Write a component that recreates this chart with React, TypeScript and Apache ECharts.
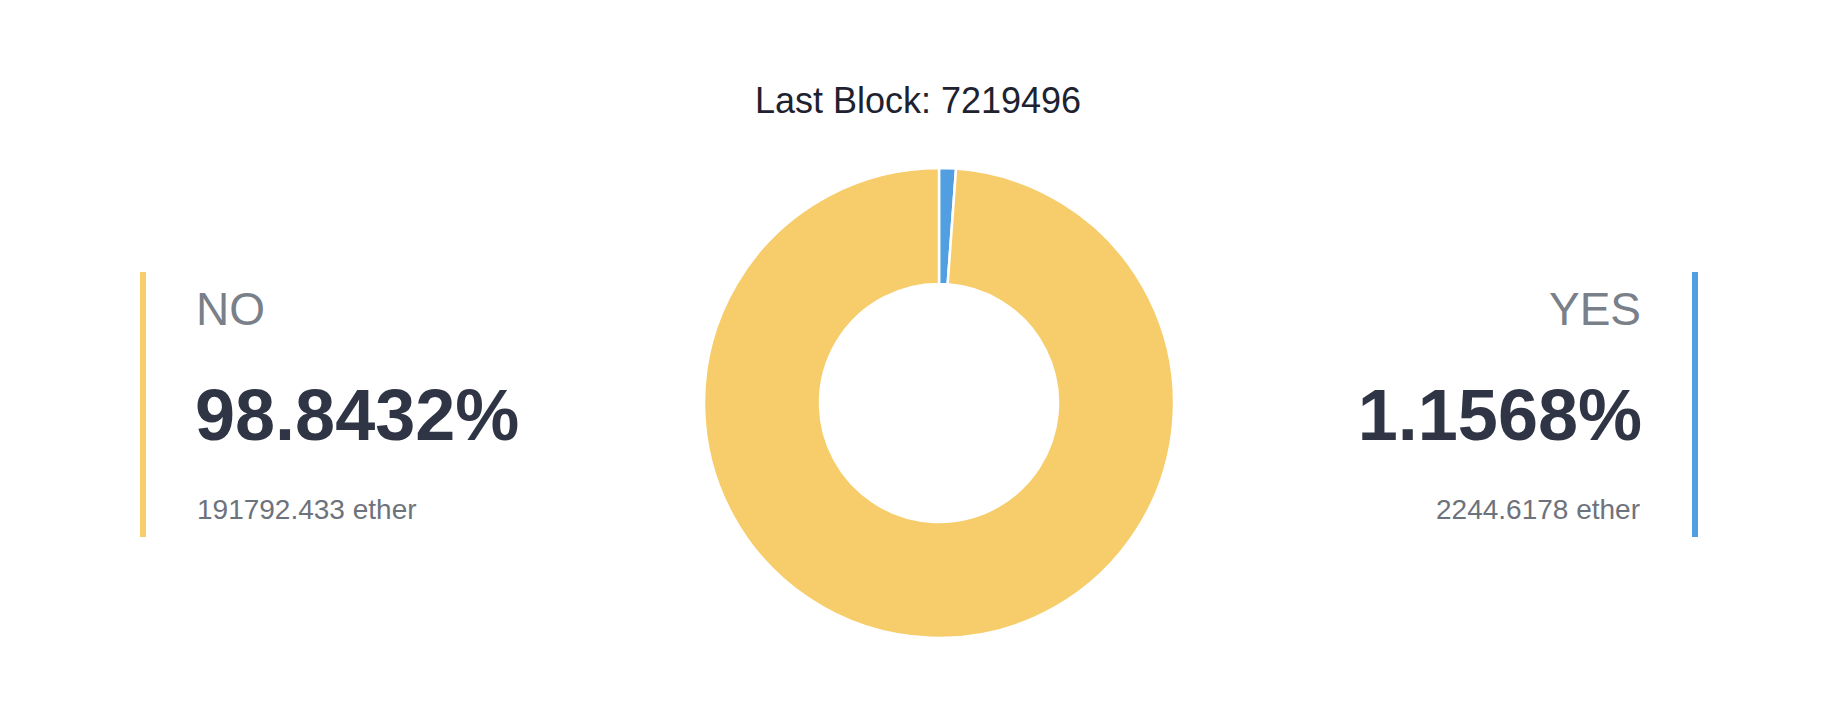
import React, { useEffect, useRef } from "react";
import * as echarts from "echarts";

const titleText = "Last Block: 7219496";
const categories = ["YES", "NO"];
const values = [2244.6178, 191792.433];
const etherLabels = ["2244.6178 ether", "191792.433 ether"];
const colors = ["#519fe1", "#f6cd6a"];

export default function App() {
  const ref = useRef<HTMLDivElement>(null);
  useEffect(() => {
    if (!ref.current) return;
    const chart = echarts.init(ref.current, undefined, { renderer: "svg" });
    const total = values.reduce((a, b) => a + b, 0);
    const pct = values.map((v) => ((v / total) * 100).toFixed(4) + "%");
    const font = "'Liberation Sans', Arial, Helvetica, sans-serif";
    const yesIdx = 0;
    const noIdx = 1;
    chart.setOption({
      animation: false,
      backgroundColor: "#ffffff",
      series: [
        {
          type: "pie",
          center: [939, 403],
          radius: [119, 235],
          startAngle: 90,
          clockwise: true,
          avoidLabelOverlap: false,
          label: { show: false },
          labelLine: { show: false },
          emphasis: { disabled: true },
          itemStyle: { borderColor: "#ffffff", borderWidth: 2.5 },
          data: categories.map((c, i) => ({
            name: c,
            value: values[i],
            itemStyle: { color: colors[i] },
          })),
        },
      ],
      graphic: [
        {
          type: "text",
          style: {
            text: titleText,
            x: 918,
            y: 100,
            align: "center",
            verticalAlign: "middle",
            fontFamily: font,
            fontSize: 36,
            fontWeight: 300,
            fill: "#1e2230",
          },
        },
        // left (NO)
        {
          type: "rect",
          shape: { x: 140, y: 272, width: 6, height: 265 },
          style: { fill: colors[noIdx] },
        },
        {
          type: "text",
          style: {
            text: categories[noIdx],
            x: 196,
            y: 309,
            align: "left",
            verticalAlign: "middle",
            fontFamily: font,
            fontSize: 46,
            fill: "#7a8089",
          },
        },
        {
          type: "text",
          style: {
            text: pct[noIdx],
            x: 195,
            y: 415,
            align: "left",
            verticalAlign: "middle",
            fontFamily: font,
            fontSize: 72,
            fontWeight: "bold",
            fill: "#2f3545",
          },
        },
        {
          type: "text",
          style: {
            text: etherLabels[noIdx],
            x: 197,
            y: 509,
            align: "left",
            verticalAlign: "middle",
            fontFamily: font,
            fontSize: 28,
            fill: "#6d737c",
          },
        },
        // right (YES)
        {
          type: "rect",
          shape: { x: 1692, y: 272, width: 6, height: 265 },
          style: { fill: colors[yesIdx] },
        },
        {
          type: "text",
          style: {
            text: categories[yesIdx],
            x: 1641,
            y: 309,
            align: "right",
            verticalAlign: "middle",
            fontFamily: font,
            fontSize: 46,
            fill: "#7a8089",
          },
        },
        {
          type: "text",
          style: {
            text: pct[yesIdx],
            x: 1642,
            y: 415,
            align: "right",
            verticalAlign: "middle",
            fontFamily: font,
            fontSize: 72,
            fontWeight: "bold",
            fill: "#2f3545",
          },
        },
        {
          type: "text",
          style: {
            text: etherLabels[yesIdx],
            x: 1640,
            y: 509,
            align: "right",
            verticalAlign: "middle",
            fontFamily: font,
            fontSize: 28,
            fill: "#6d737c",
          },
        },
      ],
    });
    return () => chart.dispose();
  }, []);
  return (
    <div
      ref={ref}
      style={{ position: "fixed", left: 0, top: 0, width: 1822, height: 716, background: "#fff" }}
    />
  );
}
